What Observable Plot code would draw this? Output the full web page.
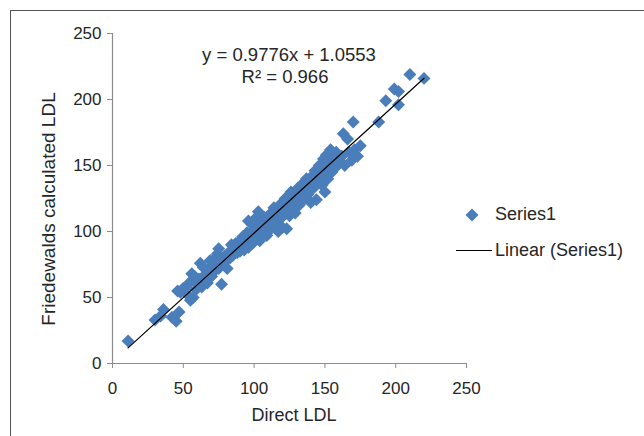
<!DOCTYPE html>
<html>
<head>
<meta charset="utf-8">
<script src="https://cdn.jsdelivr.net/npm/d3@7"></script>
<script src="https://cdn.jsdelivr.net/npm/@observablehq/plot@0.6"></script>
<style>
  html, body { margin: 0; padding: 0; background: #fff; }
  #wrap { position: relative; width: 644px; height: 436px; overflow: hidden; font-family: "Liberation Sans", Arial, sans-serif; color: #262626; }
  #frame { position: absolute; left: 10px; top: 10px; width: 700px; height: 500px; border-left: 1px solid #555; border-top: 1px solid #555; box-sizing: border-box; }
  .t { position: absolute; white-space: nowrap; line-height: 1; }
  #chart { position: absolute; left: 0; top: 0; }
</style>
</head>
<body>
<div id="wrap">
  <div id="frame"></div>
  <div id="chart"></div>
</div>
<script>
// Direct LDL (x) and Friedewald calculated LDL (y)
const directLDL = [11,30,34,36,42,45,47,46,48,50,52,53,55,55,56,57,58,59,60,61,62,63,64,65,66,67,68,69,70,71,72,73,74,75,75,77,78,79,80,81,82,83,84,85,86,87,88,89,90,90,91,92,93,94,95,96,96,97,98,99,100,100,101,102,103,103,104,105,106,107,108,109,110,111,112,113,114,115,116,117,118,119,120,121,122,123,124,125,126,127,128,129,130,131,132,133,134,135,136,137,138,139,140,141,142,143,144,145,146,147,148,149,150,150,151,152,153,154,155,156,157,158,160,162,163,164,166,167,169,170,171,173,175,188,193,199,202,202,210,220];
const calcLDL   = [17,33,36,41,35,32,39,55,54,57,58,52,48,62,68,50,66,56,60,64,76,58,73,62,68,61,72,78,66,74,70,80,83,87,72,60,76,81,78,72,84,80,90,82,86,91,84,88,85,93,89,96,86,92,99,108,88,94,100,91,96,104,110,98,115,102,93,106,100,111,104,97,108,113,102,110,118,106,114,100,120,110,103,116,125,102,120,112,130,118,124,114,128,133,120,127,136,124,131,140,128,135,122,142,133,146,124,138,150,142,135,155,130,146,158,140,152,162,145,155,148,160,152,157,174,150,170,160,154,183,162,157,165,183,199,208,206,196,219,216];
const xTicks = [0, 50, 100, 150, 200, 250];
const yTicks = [0, 50, 100, 150, 200, 250];
const slope = 0.9776, intercept = 1.0553;
const eqLine1 = "y = 0.9776x + 1.0553";
const eqLine2 = "R² = 0.966";
const seriesName = "Series1";
const trendName = "Linear (Series1)";
const xTitle = "Direct LDL";
const yTitle = "Friedewalds calculated LDL";

const data = directLDL.map((x, i) => ({x, y: calcLDL[i]}));
const xMin = d3.min(directLDL), xMax = d3.max(directLDL);
const trend = [xMin, xMax].map(x => ({x, y: slope * x + intercept}));

const blue = "#4a7ebb";
const axisGray = "#8c8c8c";

const chart = Plot.plot({
  width: 644, height: 436,
  marginLeft: 112, marginRight: 178, marginTop: 33, marginBottom: 73,
  style: { fontFamily: "'Liberation Sans', Arial, sans-serif", fontSize: "17px", color: "#262626", background: "transparent", overflow: "visible" },
  x: { domain: [0, 250] },
  y: { domain: [0, 250] },
  marks: [
    Plot.axisX({ ticks: xTicks, tickSize: 5, tickPadding: 13, stroke: axisGray, fill: "#262626", label: null, fontSize: 17 }),
    Plot.axisY({ ticks: yTicks, tickSize: 5, tickPadding: 6, stroke: axisGray, fill: "#262626", label: null, fontSize: 17 }),
    Plot.ruleY([0], { stroke: axisGray, strokeWidth: 1.2 }),
    Plot.ruleX([0], { stroke: axisGray, strokeWidth: 1.2 }),
    Plot.dot(data, { x: "x", y: "y", symbol: "diamond2", r: 5.85, fill: blue, stroke: null }),
    Plot.line(trend, { x: "x", y: "y", stroke: "#000", strokeWidth: 1.2 })
  ]
});
document.getElementById("chart").appendChild(chart);

const wrap = document.getElementById("wrap");
function addText(txt, css) {
  const d = document.createElement("div");
  d.className = "t";
  d.textContent = txt;
  Object.assign(d.style, css);
  wrap.appendChild(d);
  return d;
}
// equation
addText(eqLine1, { left: "289px", top: "55px", fontSize: "18.5px", transform: "translate(-50%,-50%)" });
addText(eqLine2, { left: "285px", top: "77px", fontSize: "18.5px", transform: "translate(-50%,-50%)" });
// axis titles
addText(xTitle, { left: "294px", top: "415px", fontSize: "18px", transform: "translate(-50%,-50%)" });
addText(yTitle, { left: "48px", top: "209px", fontSize: "19px", transform: "translate(-50%,-50%) rotate(-90deg)" });
// legend
const lg = document.createElementNS("http://www.w3.org/2000/svg", "svg");
lg.setAttribute("width", 644); lg.setAttribute("height", 436);
lg.style.position = "absolute"; lg.style.left = "0"; lg.style.top = "0";
const sym = d3.symbol(d3.symbolDiamond2, Math.PI * 5.85 * 5.85)();
d3.select(lg).append("path").attr("d", sym).attr("transform", "translate(472,215)").attr("fill", blue);
d3.select(lg).append("line").attr("x1", 456).attr("x2", 492).attr("y1", 250.5).attr("y2", 250.5).attr("stroke", "#000").attr("stroke-width", 1.2);
wrap.appendChild(lg);
addText(seriesName, { left: "495px", top: "214px", fontSize: "18px", transform: "translateY(-50%)" });
addText(trendName, { left: "495px", top: "250px", fontSize: "18px", transform: "translateY(-50%)" });
</script>
</body>
</html>
